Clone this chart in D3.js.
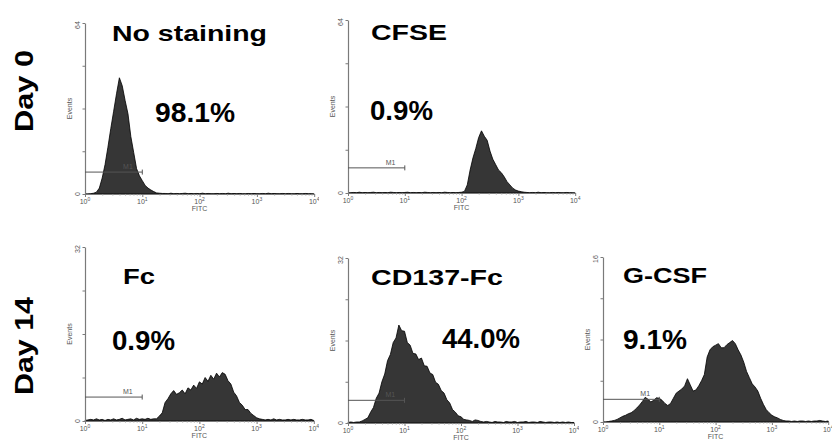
<!DOCTYPE html>
<meta charset='utf-8'>
<style>
	body {
		margin: 0;
		background: #fff;
	}

	text {
		font-family: 'Liberation Sans', Arial, sans-serif;
	}

	.big {
		font-weight: bold;
		fill: #000;
	}

	.small {
		fill: #555;
		font-size: 7px;
	}
</style>
<body>
<script src='https://cdn.jsdelivr.net/npm/d3@7'></script>

<script type='text/javascript'>
	// histogram channels: one value every 0.05 decade, 10^0 .. 10^4
	var logStep = 0.05;

	var panelNames = ['No staining', 'CFSE', 'Fc', 'CD137-Fc', 'G-CSF'];
	var percentLabels = ['98.1%', '0.9%', '0.9%', '44.0%', '9.1%'];
	var rowLabels = ['Day 0', 'Day 14'];
	var yMaxValues = [64, 64, 32, 32, 16];
	var gateLevels = [8.2, 9.3, 4.4, 4.4, 2.2];
	var gateRange = [1, 10];
	var xTickValues = [1, 10, 100, 1000, 10000];

	var countsNoStain = [0, 0, 0.1, 0.3, 0.7, 2.2, 6, 11, 17.5, 24.5, 31, 37.5, 43.5, 40.5, 35, 30, 21.5, 15.5, 9.5, 6.8,
		5, 3.2, 2.2, 1.5, 0.9, 0.4, 0.3, 0.2,
		0.2, 0.1, 0.3, 0.1, 0.2, 0.1, 0.2, 0.3, 0.1, 0.2, 0.1, 0.2, 0.1, 0.3, 0.1, 0.2, 0.1, 0.1, 0.2, 0.1,
		0.2, 0.1, 0.3, 0.1, 0.2, 0.1, 0.2, 0.1, 0.1, 0.2, 0.1, 0.2, 0.1, 0.1, 0.2, 0.1, 0.3, 0.1, 0.2, 0.1,
		0.1, 0.2, 0.1, 0.2, 0.1, 0.1, 0.2, 0.1, 0.1, 0.2, 0.1, 0.1, 0];

	var countsCFSE = [0, 0.1, 0.2, 0.1, 0.3, 0.1, 0.2, 0.1, 0.2, 0.3, 0.1, 0.2, 0.1, 0.2, 0.1, 0.3, 0.2, 0.1, 0.2, 0.1,
		0.2, 0.3, 0.1, 0.2, 0.1, 0.2, 0.1, 0.3, 0.2, 0.1, 0.2, 0.1, 0.2, 0.1, 0.3, 0.2, 0.1, 0.2, 0.1, 0.2,
		0.3, 0.6, 3, 8.5, 13, 16.5, 20.5, 23, 21, 19.5, 15.5, 12.5, 10.5, 8.5, 7.5, 6, 4.2, 3, 1.8, 1.1,
		0.7, 0.5, 0.3,
		0.2, 0.1, 0.2, 0.1, 0.3, 0.1, 0.2, 0.1, 0.1, 0.2, 0.1, 0.2, 0.1, 0.1, 0.2, 0.1, 0.1, 0];

	var countsFc = [0.1, 0.2, 0.3, 0.2, 0.4, 0.2, 0.3, 0.1, 0.3, 0.2, 0.4, 0.2, 0.3, 0.5, 0.2, 0.3, 0.4, 0.2, 0.5, 0.3,
		0.4, 0.3, 0.5, 0.3, 0.4,
		0.4, 0.9, 1.5, 3.4, 4.1, 5.0, 5.6, 4.9, 5.2, 5.7, 5.0, 6.1, 5.7, 6.6, 6.0, 7.2, 6.8, 8.0, 7.3, 8.4,
		7.7, 8.8, 8.1, 8.9, 8.6, 7.4, 6.8, 5.3, 4.6, 3.4, 2.9, 2.1, 2.1, 1.4, 1.0, 0.6, 0.4,
		0.3, 0.2, 0.3, 0.2, 0.4, 0.2, 0.3, 0.2, 0.2, 0.3, 0.2, 0.3, 0.2, 0.2, 0.3, 0.2, 0.2, 0.3, 0.1];

	var countsCD137 = [0.1, 0.2, 0.1, 0.2,
		0.2, 0.4, 0.7, 1.0, 2.1, 3.0, 4.8, 5.8, 8.0, 9.5, 12.1, 13.3, 15.6, 16.5, 19.0, 17.9, 17.8, 15.6,
		15.1, 13.5, 13.4, 12.3, 12.6, 11.1, 11.0, 9.7, 9.4, 7.9, 7.5, 6.3, 5.8, 4.5, 3.9, 2.6, 2.1, 1.4,
		1.2, 0.7, 0.6, 0.5, 0.3, 0.6, 0.5, 0.3,
		0.2, 0.3, 0.2, 0.1, 0.3, 0.2, 0.2, 0.1, 0.3, 0.2, 0.2, 0.3, 0.1, 0.2, 0.2, 0.3, 0.1, 0.2, 0.2, 0.1,
		0.3, 0.2, 0.1, 0.2, 0.2, 0.1, 0.2, 0.1, 0.2, 0.1, 0.2, 0.1, 0.1];

	var countsGCSF = [0, 0, 0.05, 0.1, 0.15, 0.25, 0.4, 0.55, 0.65, 0.8, 0.9, 1.1, 1.35, 1.65, 2.0, 2.4, 2.2, 1.95, 2.1, 2.35,
		2.3, 2.1, 1.8, 1.6, 1.8, 2.3, 2.8, 3.0, 3.2, 3.5, 4.2, 3.6, 3.0, 3.1, 3.5, 4.0, 4.6, 6.3, 7.0, 7.3,
		7.45, 7.6, 7.2, 7.2, 7.5, 7.7, 7.9, 7.6, 7.0, 6.5, 5.8, 4.9, 4.3, 3.7, 3.4, 3.0, 2.3, 1.7, 1.2, 0.9,
		0.65, 0.5, 0.4, 0.25, 0.15, 0.1,
		0.1, 0.05, 0.1, 0.05, 0.1, 0.1, 0.05, 0.1, 0.05, 0.1, 0.1, 0.15, 0.1, 0.05, 0.1];

	var allCounts = [countsNoStain, countsCFSE, countsFc, countsCD137, countsGCSF];

	// layout of the five plots (pixels)
	var layout = [
		{x0: 85, dec: 57.3, top: 23, bottom: 194, mask: null,
			title: [112, 41, 155], pct: [155, 122, 80]},
		{x0: 348, dec: 56.8, top: 20, bottom: 193, mask: [319, 0, 300, 222],
			title: [371, 40, 76], pct: [370, 120, 63]},
		{x0: 85, dec: 57.2, top: 247, bottom: 421, mask: null,
			title: [123, 284, 32], pct: [112, 350, 63]},
		{x0: 348, dec: 56.5, top: 258, bottom: 423, mask: [319, 222, 260, 219],
			title: [371, 285, 132], pct: [442, 348, 78]},
		{x0: 603, dec: 56.3, top: 257, bottom: 422, mask: [579, 222, 253, 219],
			title: [623, 283, 84], pct: [623, 349, 64]}
	];
	var rowPos = [{x: 33, y: 91, w: 82}, {x: 33, y: 346, w: 98}];

	var svg = d3.select('body').append('svg')
		.attr('width', 832).attr('height', 441);

	var minorTicks = [];
	[1, 10, 100, 1000].forEach(function (d) {
		for (var k = 2; k < 10; k++) minorTicks.push(d * k);
	});

	function drawPanel(i) {
		var L = layout[i], yMax = yMaxValues[i];
		var g = svg.append('g');

		if (L.mask) {
			g.append('rect').attr('x', L.mask[0]).attr('y', L.mask[1])
				.attr('width', L.mask[2]).attr('height', L.mask[3]).attr('fill', '#fff');
		}

		var x = d3.scaleLog().domain([1, 10000]).range([L.x0, L.x0 + 4 * L.dec]);
		var y = d3.scaleLinear().domain([0, yMax]).range([L.bottom, L.top]);

		var bins = allCounts[i].map(function (v, k) {
			return {e: Math.pow(10, k * logStep), v: v};
		});

		var area = d3.area()
			.x(function (d) { return x(d.e); })
			.y0(y(0))
			.y1(function (d) { return y(d.v); });

		g.append('path').datum(bins)
			.attr('d', area)
			.attr('fill', '#363636')
			.attr('stroke', '#000')
			.attr('stroke-width', 0.8)
			.attr('stroke-linejoin', 'round');

		// axes
		var xAxis = g.append('g').attr('transform', 'translate(0,' + L.bottom + ')')
			.attr('color', '#7a7a7a')
			.call(d3.axisBottom(x).tickValues(xTickValues).tickSize(3).tickSizeOuter(0).tickFormat(''));
		xAxis.select('.domain').attr('stroke-width', 1.2);

		var xMinor = g.append('g').attr('transform', 'translate(0,' + L.bottom + ')')
			.attr('color', '#999')
			.call(d3.axisBottom(x).tickValues(minorTicks).tickSize(1.5).tickFormat(''));
		xMinor.select('.domain').remove();

		var yAxis = g.append('g').attr('transform', 'translate(' + L.x0 + ',0)')
			.attr('color', '#7a7a7a')
			.call(d3.axisLeft(y).tickValues([0, yMax / 4, yMax / 2, yMax * 3 / 4, yMax])
				.tickSize(2.5).tickSizeOuter(0).tickFormat(''));
		yAxis.select('.domain').attr('stroke-width', 1.2);

		// decade labels 10^n
		xTickValues.forEach(function (v, k) {
			var t = g.append('text').attr('class', 'small')
				.attr('x', x(v)).attr('y', L.bottom + 10)
				.attr('text-anchor', 'middle');
			t.append('tspan').text('10');
			t.append('tspan').attr('dy', -3).attr('font-size', 5).text(k);
		});

		g.append('text').attr('class', 'small')
			.attr('x', (x(1) + x(10000)) / 2).attr('y', L.bottom + 17)
			.attr('text-anchor', 'middle').attr('font-size', 6).text('FITC');

		[[0, L.bottom], [yMax, L.top + 2]].forEach(function (p) {
			g.append('text').attr('class', 'small')
				.attr('transform', 'translate(' + (L.x0 - 5) + ',' + p[1] + ') rotate(-90)')
				.attr('text-anchor', 'middle').attr('font-size', 6).text(p[0]);
		});

		g.append('text').attr('class', 'small')
			.attr('transform', 'translate(' + (L.x0 - 13) + ',' + ((L.top + L.bottom) / 2) + ') rotate(-90)')
			.attr('text-anchor', 'middle').attr('font-size', 6.5).text('Events');

		// M1 marker
		var gy = y(gateLevels[i]);
		var gx0 = x(gateRange[0]), gx1 = x(gateRange[1]);
		g.append('line').attr('x1', gx0).attr('x2', gx1).attr('y1', gy).attr('y2', gy)
			.attr('stroke', '#555').attr('stroke-width', 1);
		g.append('line').attr('x1', gx1).attr('x2', gx1).attr('y1', gy - 2.5).attr('y2', gy + 2.5)
			.attr('stroke', '#555').attr('stroke-width', 1);
		g.append('text').attr('class', 'small')
			.attr('x', x(Math.pow(10, 0.75))).attr('y', gy - 3)
			.attr('text-anchor', 'middle').attr('font-size', 6).attr('fill', '#444').text('M1');

		// title and percentage
		g.append('text').attr('class', 'big')
			.attr('x', L.title[0]).attr('y', L.title[1])
			.attr('font-size', 22)
			.attr('textLength', L.title[2]).attr('lengthAdjust', 'spacingAndGlyphs')
			.text(panelNames[i]);

		g.append('text').attr('class', 'big')
			.attr('x', L.pct[0]).attr('y', L.pct[1])
			.attr('font-size', 27)
			.attr('textLength', L.pct[2]).attr('lengthAdjust', 'spacingAndGlyphs')
			.text(percentLabels[i]);
	}

	for (var i = 0; i < layout.length; i++) drawPanel(i);

	rowLabels.forEach(function (lab, k) {
		svg.append('text').attr('class', 'big')
			.attr('transform', 'translate(' + rowPos[k].x + ',' + rowPos[k].y + ') rotate(-90)')
			.attr('text-anchor', 'middle').attr('font-size', 25)
			.attr('textLength', rowPos[k].w).attr('lengthAdjust', 'spacingAndGlyphs')
			.text(lab);
	});
</script>
